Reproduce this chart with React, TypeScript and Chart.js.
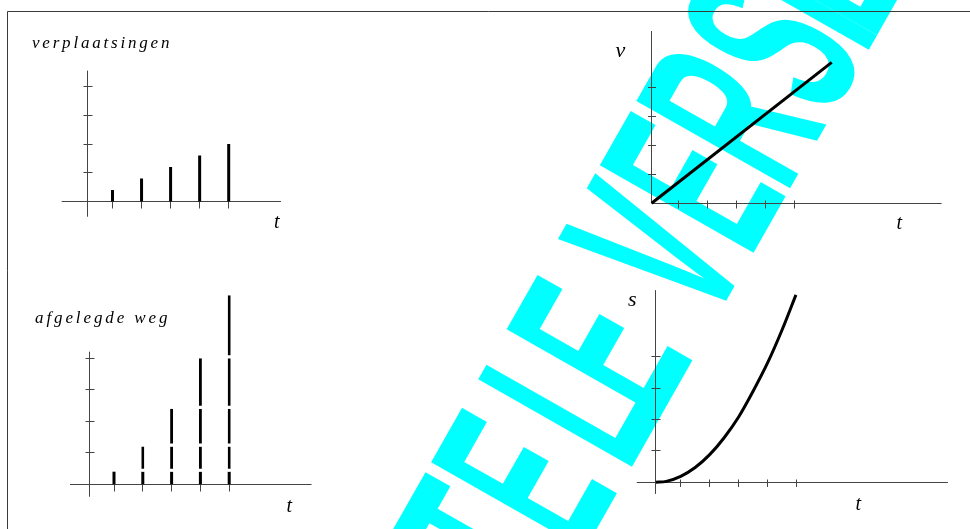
import React, { useEffect, useRef } from "react";
import { Chart, registerables } from "chart.js";

Chart.register(...registerables);

const W = 970;
const H = 529;

// ---------------- data ----------------
const intervalTimes = [1, 2, 3, 4, 5];
const displacementValues = [0.4, 0.8, 1.2, 1.6, 2.0];
const tTickValues = [1, 2, 3, 4, 5];
const yTickValues = [1, 2, 3, 4];
const velocityT = [0.08, 6.29];
const velocityV = [0, 4.86];
const distanceT = [0.14, 0.5, 1, 1.5, 2, 2.5, 3, 3.5, 4, 4.5, 4.98];
const distanceS = [0, 0.03, 0.19, 0.47, 0.88, 1.42, 2.08, 2.9, 3.8, 4.85, 5.97];
const titleTop = "verplaatsingen";
const titleBottom = "afgelegde weg";
const axisLabelT = "t";
const axisLabelV = "v";
const axisLabelS = "s";
const watermarkLetters = ["T", "E", "L", "E", "V", "E", "R", "S", "I", "E"];

// ---------------- layout (pixel geometry of each small plot) ----------------
type Geo = {
  xPx1: number; xStep: number; xMin: number; xMax: number;
  yPx0: number; yStep: number; yMin: number; yMax: number;
  originX: number; xTickUp: number; xTickDown: number; yTickLen: number;
};
const geo1: Geo = { xPx1: 112.5, xStep: 29.05, xMin: -0.75, xMax: 6.8, yPx0: 201.5, yStep: 28.7, yMin: -0.53, yMax: 4.56, originX: 0.126, xTickUp: 0, xTickDown: 7, yTickLen: 4 };
const geo2: Geo = { xPx1: 114, xStep: 28.8, xMin: -0.528, xMax: 7.86, yPx0: 484.3, yStep: 31.5, yMin: -0.394, yMax: 4.21, originX: 0.132, xTickUp: 0, xTickDown: 7, yTickLen: 4 };
const geo3: Geo = { xPx1: 678.3, xStep: 29, xMin: 0.083, xMax: 10.08, yPx0: 203.3, yStep: 29, yMin: 0, yMax: 5.94, originX: 0.083, xTickUp: 3, xTickDown: 5, yTickLen: 3.5 };
const geo4: Geo = { xPx1: 680.7, xStep: 28.95, xMin: -0.517, xMax: 10.23, yPx0: 482.3, yStep: 31.4, yMin: -0.37, yMax: 6.12, originX: 0.136, xTickUp: 3, xTickDown: 4.5, yTickLen: 4 };

function padding(g: Geo) {
  const left = g.xPx1 + (g.xMin - 1) * g.xStep;
  const right = g.xPx1 + (g.xMax - 1) * g.xStep;
  const top = g.yPx0 - g.yMax * g.yStep;
  const bottom = g.yPx0 - g.yMin * g.yStep;
  return { left, top, right: W - right, bottom: H - bottom };
}

const AXIS_COLOR = "#444444";

const axesPlugin = {
  id: "simpleAxes",
  beforeDatasetsDraw(chart: any, _args: any, opts: any) {
    const { ctx, chartArea: a, scales } = chart;
    const x = scales.x;
    const y = scales.y;
    const snap = (v: number) => Math.round(v - 0.5) + 0.5;
    const x0 = snap(x.getPixelForValue(opts.originX));
    const y0 = snap(y.getPixelForValue(0));
    ctx.save();
    ctx.strokeStyle = AXIS_COLOR;
    ctx.lineWidth = 1;
    ctx.beginPath();
    ctx.moveTo(a.left, y0);
    ctx.lineTo(a.right, y0);
    ctx.moveTo(x0, a.top);
    ctx.lineTo(x0, a.bottom);
    for (const t of tTickValues) {
      const px = snap(x.getPixelForValue(t));
      ctx.moveTo(px, y0 - opts.xTickUp);
      ctx.lineTo(px, y0 + opts.xTickDown);
    }
    for (const v of yTickValues) {
      const py = snap(y.getPixelForValue(v));
      ctx.moveTo(x0 - opts.yTickLen, py);
      ctx.lineTo(x0 + opts.yTickLen + 1, py);
    }
    ctx.stroke();
    ctx.restore();
  },
};

function baseOptions(g: Geo) {
  return {
    responsive: false,
    animation: false as const,
    events: [] as any[],
    layout: { padding: padding(g) },
    plugins: {
      legend: { display: false },
      tooltip: { enabled: false },
      title: { display: false },
      simpleAxes: { originX: g.originX, xTickUp: g.xTickUp, xTickDown: g.xTickDown, yTickLen: g.yTickLen },
    },
    scales: {
      x: { type: "linear" as const, display: false, offset: false, min: g.xMin, max: g.xMax, grid: { offset: false } },
      y: { type: "linear" as const, display: false, min: g.yMin, max: g.yMax },
    },
  };
}

const watermarkPlugin = {
  id: "watermark",
  beforeDraw(chart: any) {
    const ctx = chart.ctx as CanvasRenderingContext2D;
    ctx.save();
    ctx.fillStyle = "#00ffff";
    ctx.font = 'bold 257px "Liberation Sans", Arial, sans-serif';
    ctx.textBaseline = "alphabetic";
    ctx.rotate((-60.4 * Math.PI) / 180);
    const sx = 0.45;
    ctx.scale(sx, 1);
    const baseline = 780;
    // left edges (rotated, scaled frame) of each letter; T positioned by its right edge
    const lefts = [null, -189.5, -94.1, -36.6, 67, 152, 226, 307, 385.4, 402];
    watermarkLetters.forEach((ch, i) => {
      const m = ctx.measureText(ch);
      let pen: number;
      if (i === 0) {
        pen = -199.3 / sx - m.actualBoundingBoxRight;
      } else {
        pen = (lefts[i] as number) / sx + m.actualBoundingBoxLeft;
      }
      ctx.fillText(ch, pen, baseline);
    });
    ctx.restore();
  },
  afterDraw(chart: any) {
    const ctx = chart.ctx as CanvasRenderingContext2D;
    ctx.save();
    ctx.strokeStyle = "#3a3a3a";
    ctx.lineWidth = 1;
    ctx.beginPath();
    ctx.moveTo(7.5, 529);
    ctx.lineTo(7.5, 11.5);
    ctx.lineTo(970, 11.5);
    ctx.stroke();
    ctx.restore();
  },
};

function cumulativeSegments() {
  const pts: { x: number; y: [number, number] }[] = [];
  intervalTimes.forEach((t, i) => {
    let start = 0;
    for (let k = 0; k <= i; k++) {
      const end = start + displacementValues[k];
      pts.push({ x: t, y: [start, end] });
      start = end;
    }
  });
  return pts;
}

const labelStyle = (left: number, baseline: number, size: number, spacing = 0): React.CSSProperties => ({
  position: "absolute",
  left,
  top: baseline - 0.8375 * size,
  fontFamily: '"Liberation Serif", "Times New Roman", serif',
  fontStyle: "italic",
  fontSize: size,
  lineHeight: 1,
  letterSpacing: spacing,
  whiteSpace: "nowrap",
  color: "#000",
});

const canvasStyle: React.CSSProperties = { position: "absolute", left: 0, top: 0, width: W, height: H };

export default function App() {
  const bgRef = useRef<HTMLCanvasElement>(null);
  const c1 = useRef<HTMLCanvasElement>(null);
  const c2 = useRef<HTMLCanvasElement>(null);
  const c3 = useRef<HTMLCanvasElement>(null);
  const c4 = useRef<HTMLCanvasElement>(null);

  useEffect(() => {
    const charts: Chart[] = [];

    charts.push(
      new Chart(bgRef.current!, {
        type: "scatter",
        data: { datasets: [] },
        options: {
          responsive: false,
          animation: false,
          events: [],
          plugins: { legend: { display: false }, tooltip: { enabled: false } },
          scales: { x: { display: false }, y: { display: false } },
        },
        plugins: [watermarkPlugin],
      } as any)
    );

    charts.push(
      new Chart(c1.current!, {
        type: "bar",
        data: {
          datasets: [
            {
              label: titleTop,
              data: intervalTimes.map((t, i) => ({ x: t, y: displacementValues[i] })),
              backgroundColor: "#000",
              borderWidth: 0,
              barThickness: 3,
              inflateAmount: 0,
            },
          ],
        },
        options: baseOptions(geo1),
        plugins: [axesPlugin],
      } as any)
    );

    charts.push(
      new Chart(c2.current!, {
        type: "bar",
        data: {
          datasets: [
            {
              label: titleBottom,
              data: cumulativeSegments(),
              backgroundColor: "#000",
              borderColor: "#fff",
              borderSkipped: false,
              borderWidth: (ctx: any) =>
                ctx.raw && ctx.raw.y[0] > 0 ? { top: 0, right: 0, bottom: 3, left: 0 } : 0,
              barThickness: 3,
              inflateAmount: 0,
              clip: false,
            },
          ],
        },
        options: baseOptions(geo2),
        plugins: [axesPlugin],
      } as any)
    );

    charts.push(
      new Chart(c3.current!, {
        type: "line",
        data: {
          datasets: [
            {
              label: axisLabelV,
              data: velocityT.map((t, i) => ({ x: t, y: velocityV[i] })),
              borderColor: "#000",
              borderWidth: 3,
              pointRadius: 0,
              fill: false,
              clip: false,
            },
          ],
        },
        options: baseOptions(geo3),
        plugins: [axesPlugin],
      } as any)
    );

    charts.push(
      new Chart(c4.current!, {
        type: "line",
        data: {
          datasets: [
            {
              label: axisLabelS,
              data: distanceT.map((t, i) => ({ x: t, y: distanceS[i] })),
              borderColor: "#000",
              borderWidth: 3,
              pointRadius: 0,
              fill: false,
              cubicInterpolationMode: "monotone",
              clip: false,
            },
          ],
        },
        options: baseOptions(geo4),
        plugins: [axesPlugin],
      } as any)
    );

    return () => charts.forEach((c) => c.destroy());
  }, []);

  return (
    <div style={{ position: "absolute", left: 0, top: 0, width: W, height: H, overflow: "hidden", background: "#fff" }}>
      <canvas ref={bgRef} width={W} height={H} style={canvasStyle} />
      <canvas ref={c1} width={W} height={H} style={canvasStyle} />
      <canvas ref={c2} width={W} height={H} style={canvasStyle} />
      <canvas ref={c3} width={W} height={H} style={canvasStyle} />
      <canvas ref={c4} width={W} height={H} style={canvasStyle} />
      <span style={labelStyle(32, 48.7, 17, 2.8)}>{titleTop}</span>
      <span style={labelStyle(35, 323.3, 17, 2.9)}>{titleBottom}</span>
      <span style={labelStyle(274, 227.7, 20)}>{axisLabelT}</span>
      <span style={labelStyle(286.5, 511.7, 20)}>{axisLabelT}</span>
      <span style={labelStyle(896.5, 228.3, 20)}>{axisLabelT}</span>
      <span style={labelStyle(855.5, 510, 20)}>{axisLabelT}</span>
      <span style={labelStyle(615.5, 57.3, 22)}>{axisLabelV}</span>
      <span style={labelStyle(628, 306.7, 22)}>{axisLabelS}</span>
    </div>
  );
}
